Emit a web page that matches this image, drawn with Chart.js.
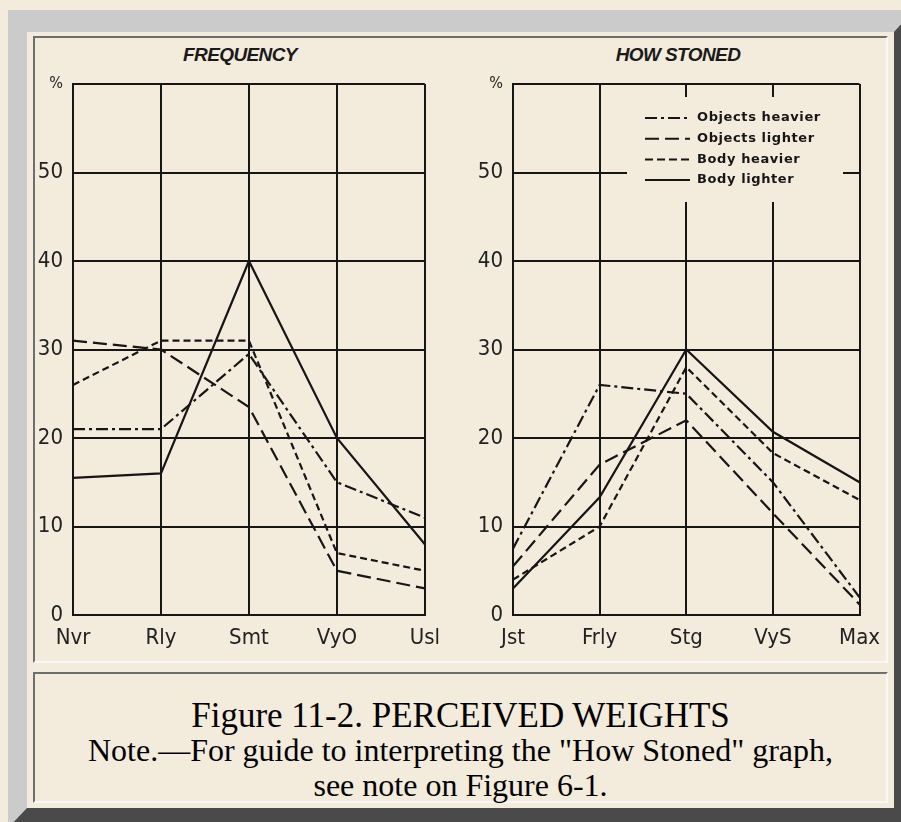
<!DOCTYPE html>
<html><head><meta charset="utf-8">
<script src="https://cdn.jsdelivr.net/npm/chart.js@4.4.1/dist/chart.umd.min.js"></script>
<style>
html,body{margin:0;padding:0;}
body{width:901px;height:822px;overflow:hidden;background:#f3ebdb;position:relative;}
#frame{position:absolute;left:8px;top:10px;width:867px;height:776px;border-top:22px solid #cbcbcb;border-left:19px solid #cbcbcb;border-right:20px solid #4a4a4a;border-bottom:20px solid #4a4a4a;}
.cell{position:absolute;box-sizing:border-box;border-top:2px solid #6e6e6e;border-left:2px solid #6e6e6e;border-bottom:2px solid #f7f7f7;border-right:2px solid #f7f7f7;}
#c1{left:33px;top:36px;width:855px;height:627px;}
#c2{left:33px;top:672px;width:855px;height:131px;}
.ttl{position:absolute;top:43px;width:240px;text-align:center;font:bold italic 19px 'Liberation Sans',Arial,sans-serif;color:#1a1a1a;letter-spacing:-0.6px;line-height:24px;}
.cap{position:absolute;left:33px;width:855px;text-align:center;font-family:'Liberation Serif','Times New Roman',serif;color:#000;white-space:nowrap;}
.wrap{position:absolute;top:40px;}
</style></head>
<body>
<div id="frame"></div>
<div class="cell" id="c1"></div>
<div class="cell" id="c2"></div>
<div class="ttl" style="left:120px">FREQUENCY</div>
<div class="ttl" style="left:558px">HOW STONED</div>
<div class="wrap" style="left:30px"><canvas id="chA" width="420" height="620"></canvas></div>
<div class="wrap" style="left:460px"><canvas id="chB" width="430" height="620"></canvas></div>
<div class="cap" style="top:696px;font-size:35px;line-height:40px;">Figure 11-2. PERCEIVED WEIGHTS</div>
<div class="cap" style="top:732px;font-size:32px;line-height:36px;">Note.—For guide to interpreting the "How Stoned" graph,</div>
<div class="cap" style="top:767px;font-size:32px;line-height:36px;">see note on Figure 6-1.</div>
<script>
// ---- data ----
const seriesNames = ["Objects heavier", "Objects lighter", "Body heavier", "Body lighter"];
const freqLabels = ["Nvr", "Rly", "Smt", "VyO", "Usl"];
const stonedLabels = ["Jst", "Frly", "Stg", "VyS", "Max"];
const yTicks = [0, 10, 20, 30, 40, 50, 60];
// FREQUENCY (%)
const freqObjectsHeavier = [21, 21, 29.5, 15, 11];
const freqObjectsLighter = [31, 30, 23.5, 5, 3];
const freqBodyHeavier   = [26, 31, 31, 7, 5];
const freqBodyLighter   = [15.5, 16, 40, 20, 8];
// HOW STONED (%)
const stonedObjectsHeavier = [7.5, 26, 25, 15, 2];
const stonedObjectsLighter = [5.5, 17, 22, 11.5, 1.2];
const stonedBodyHeavier   = [4, 10, 28, 18.3, 13];
const stonedBodyLighter   = [3, 13.3, 30, 20.7, 15];

// ---- styles ----
const INK = '#161616';
const BG = '#f3ebdb';
const dashes = [[12, 4, 3, 4], [14, 6], [7, 4], []];
const legendDashes = [[12, 4, 3, 4], [14, 6], [8, 4], []];
const tickFamily = "'Liberation Sans Narrow','DejaVu Sans Condensed','Roboto Condensed',sans-serif";

function datasets(arrs) {
  return arrs.map((d, i) => ({
    label: seriesNames[i], data: d, borderColor: INK, borderWidth: 2.2,
    borderDash: dashes[i], pointRadius: 0, tension: 0, fill: false
  }));
}

const legendPlugin = {
  id: 'boxLegend',
  afterDraw(chart, args, opts) {
    if (!opts.show) return;
    const ctx = chart.ctx;
    ctx.save();
    ctx.fillStyle = BG;
    ctx.fillRect(opts.x, opts.y, opts.w, opts.h);
    ctx.font = "bold 13px 'DejaVu Sans',sans-serif";
    try { ctx.letterSpacing = '0.6px'; } catch (e) {}
    ctx.textBaseline = 'middle';
    chart.data.datasets.forEach((ds, i) => {
      const y = opts.rowY + i * opts.rowH;
      ctx.strokeStyle = ds.borderColor; ctx.lineWidth = 2;
      ctx.setLineDash(legendDashes[i]);
      ctx.beginPath(); ctx.moveTo(opts.lx, y); ctx.lineTo(opts.lx + 45, y); ctx.stroke();
      ctx.setLineDash([]);
      ctx.fillStyle = INK;
      ctx.fillText(ds.label, opts.lx + 52, y);
    });
    ctx.restore();
  }
};

function makeChart(id, labels, arrs, yWidth, padRight, legendOpts) {
  return new Chart(document.getElementById(id), {
    type: 'line',
    data: { labels: labels, datasets: datasets(arrs) },
    plugins: [legendPlugin],
    options: {
      responsive: false, animation: false,
      layout: { padding: { top: 44, right: padRight, left: 0, bottom: 0 } },
      plugins: { legend: { display: false }, title: { display: false }, tooltip: { enabled: false },
                 boxLegend: legendOpts },
      scales: {
        x: {
          type: 'category', offset: false,
          grid: { color: INK, lineWidth: 2, drawTicks: false },
          border: { color: INK, width: 2 },
          ticks: { color: '#222', padding: 10, maxRotation: 0, autoSkip: false,
                   font: { family: tickFamily, size: 22 } },
          afterFit: s => { s.height = 45; }
        },
        y: {
          min: 0, max: 60,
          afterBuildTicks: s => { s.ticks = yTicks.map(v => ({ value: v })); },
          grid: { color: INK, lineWidth: 2, drawTicks: false },
          border: { color: INK, width: 2 },
          ticks: { color: '#222', padding: 10,
                   callback: v => v === 60 ? '%' : v,
                   font: c => ({ family: tickFamily, size: (c.tick && c.tick.value === 60) ? 16 : 22 }) },
          afterFit: s => { s.width = yWidth; }
        }
      }
    }
  });
}

makeChart('chA', freqLabels, [freqObjectsHeavier, freqObjectsLighter, freqBodyHeavier, freqBodyLighter], 43, 20, { show: false });
makeChart('chB', stonedLabels, [stonedObjectsHeavier, stonedObjectsLighter, stonedBodyHeavier, stonedBodyLighter], 53, 23,
  { show: true, x: 167, y: 57, w: 216, h: 105, rowY: 78, rowH: 20.7, lx: 185 });
</script>
</body></html>
